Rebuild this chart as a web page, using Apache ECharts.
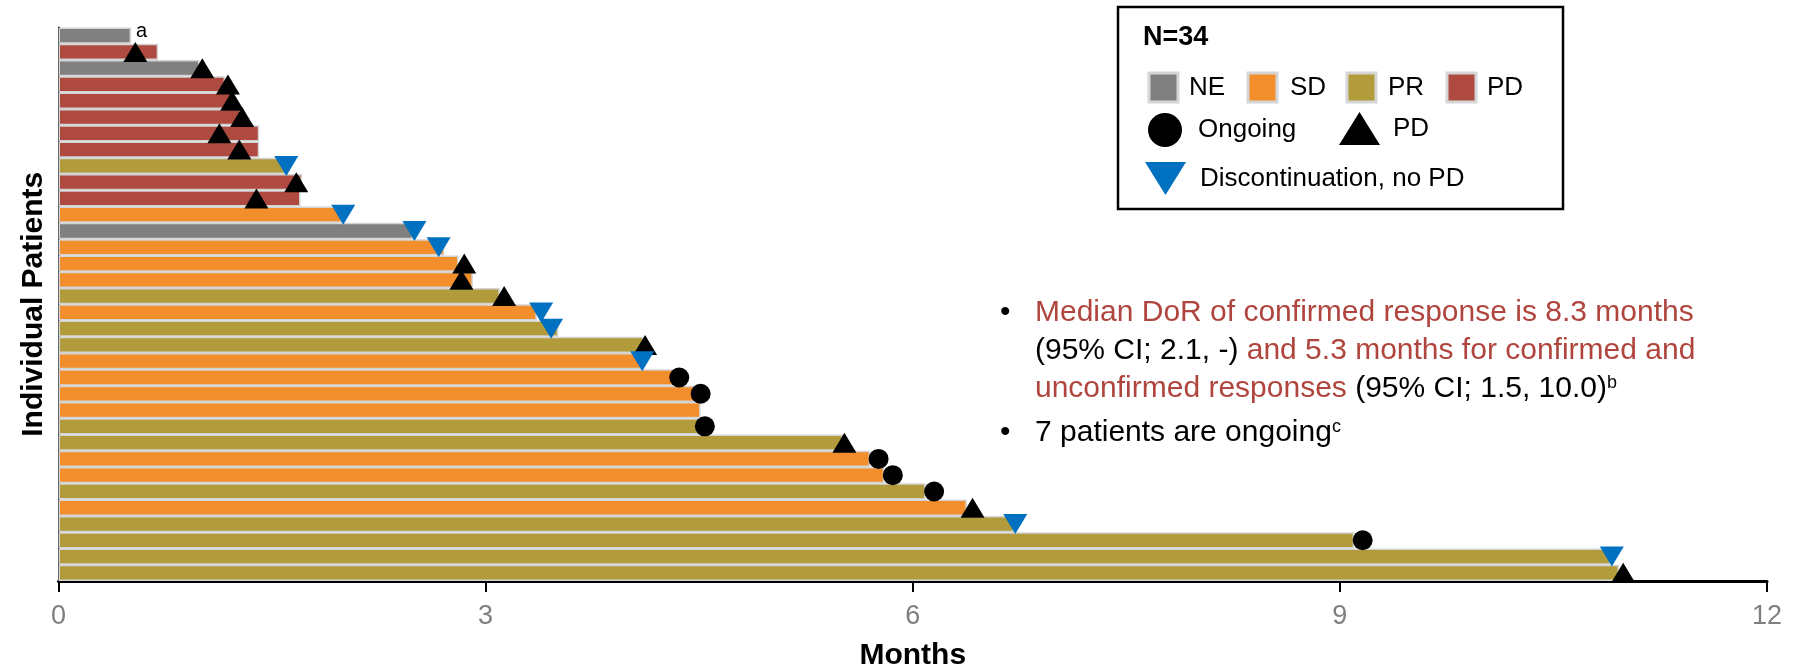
<!DOCTYPE html>
<html>
<head>
<meta charset="utf-8">
<script src="https://cdn.jsdelivr.net/npm/echarts@6/dist/echarts.min.js"></script>
<style>
html,body{margin:0;padding:0;background:#fff;}
#chart{width:1797px;height:672px;}
</style>
</head>
<body>
<div id="chart"></div>
<script>
// ---- data ----
const patients = Array.from({length: 34}, (_, i) => 'P' + (i + 1));
const responses = ['NE','PD','NE','PD','PD','PD','PD','PD','PR','PD','PD','SD','NE','SD','SD','SD','PR','SD','PR','PR','SD','SD','SD','SD','PR','PR','SD','SD','PR','SD','PR','PR','PR','PR'];
const durations = [0.51,0.70,0.99,1.17,1.22,1.28,1.41,1.41,1.60,1.71,1.70,1.99,2.49,2.71,2.81,2.91,3.10,3.36,3.51,4.11,4.11,4.32,4.48,4.51,4.50,5.51,5.70,5.80,6.09,6.38,6.71,9.10,10.90,10.96];
const responseCategories = ['NE','SD','PR','PD'];
const ongoingRows = [22,23,25,27,28,29,32];
const ongoingTimes = [4.36,4.51,4.54,5.76,5.86,6.15,9.16];
const pdRows = [2,3,4,5,6,7,8,10,11,15,16,17,20,26,30,34];
const pdTimes = [0.54,1.01,1.19,1.22,1.29,1.13,1.27,1.67,1.39,2.85,2.83,3.13,4.12,5.52,6.42,10.99];
const discRows = [9,12,13,14,18,19,21,31,33];
const discTimes = [1.60,2.00,2.50,2.67,3.39,3.46,4.10,6.72,10.91];
const xTicks = {min: 0, max: 12, interval: 3};
const footnoteRow = 1, footnoteText = 'a';

// ---- styles ----
const F = "'Liberation Sans', Arial, sans-serif";
const colors = {NE: '#808080', SD: '#F28E2B', PR: '#B19B3A', PD: '#AE4A40'};
const RED = '#B0453E';
const BLUE = '#0070C0';
const downTri = 'path://M0,0L24,0L12,20Z';

const barSeries = responseCategories.map(c => ({
  type: 'bar',
  name: c,
  stack: 'resp',
  barWidth: '100%',
  itemStyle: {color: colors[c], borderColor: '#d4d4d4', borderWidth: 1.5, opacity: 1},
  z: 2,
  data: durations.map((d, i) => {
    if (responses[i] !== c) return '-';
    if (i === footnoteRow - 1) {
      return {value: d, label: {show: true, formatter: footnoteText, position: 'right', distance: 5,
        offset: [0, -4], fontSize: 20, color: '#000', fontFamily: F}};
    }
    return d;
  })
}));

const markerSeries = [
  {type: 'scatter', name: 'Ongoing', symbol: 'circle', symbolSize: 20, itemStyle: {color: '#000', opacity: 1}, z: 5,
   data: ongoingRows.map((r, i) => [ongoingTimes[i], patients[r - 1]])},
  {type: 'scatter', name: 'PD ', symbol: 'triangle', symbolSize: [24, 20], itemStyle: {color: '#000', opacity: 1}, z: 5,
   data: pdRows.map((r, i) => [pdTimes[i], patients[r - 1]])},
  {type: 'scatter', name: 'Discontinuation, no PD', symbol: downTri, symbolSize: [24, 20], itemStyle: {color: BLUE, opacity: 1}, z: 5,
   data: discRows.map((r, i) => [discTimes[i], patients[r - 1]])}
];

function legendItem(name, left, top, w, h, pad, extra) {
  return Object.assign({
    data: [name], left: left, top: top, itemWidth: w, itemHeight: h, orient: 'horizontal',
    selectedMode: false, symbolKeepAspect: false,
    textStyle: {fontSize: 26, color: '#000', fontFamily: F, padding: [0, 0, 0, pad]}
  }, extra || {});
}
const boxStyle = {icon: 'rect', itemStyle: {borderColor: '#d6d6d6', borderWidth: 3, opacity: 1}};

const legends = [
  legendItem('NE', 1142.5, 66.5, 29, 29, 6, boxStyle),
  legendItem('SD', 1241.5, 66.5, 29, 29, 8, boxStyle),
  legendItem('PR', 1340.5, 66.5, 29, 29, 7, boxStyle),
  legendItem('PD', 1440.5, 66.5, 29, 29, 6, boxStyle),
  legendItem('Ongoing', 1143, 108, 34, 34, 11, {itemStyle: {opacity: 1}}),
  legendItem('PD ', 1334, 107, 41, 33, 8, {itemStyle: {opacity: 1}}),
  legendItem('Discontinuation, no PD', 1140, 157, 41, 33, 9, {itemStyle: {opacity: 1}})
];

const textLines = [
  {y: 313, text: '{r|Median DoR of confirmed response is 8.3 months}'},
  {y: 351, text: '{k|(95% CI; 2.1, -) }{r|and 5.3 months for confirmed and}'},
  {y: 389, text: '{r|unconfirmed responses }{k|(95% CI; 1.5, 10.0)}{s|b}'},
  {y: 433, text: '{k|7 patients are ongoing}{s|c}'}
];
const rich = {
  r: {fill: RED, fontSize: 30, fontFamily: F},
  k: {fill: '#000', fontSize: 30, fontFamily: F},
  s: {fill: '#000', fontSize: 18, fontFamily: F, verticalAlign: 'top'}
};

const graphics = [
  {type: 'rect', shape: {x: 1118, y: 7, width: 445, height: 202}, style: {fill: '#fff', stroke: '#000', lineWidth: 2.5}, z: 0},
  {type: 'text', x: 1143, y: 38, style: {text: 'N=34', fontSize: 27, fontWeight: 'bold', fontFamily: F, fill: '#000', verticalAlign: 'middle'}, z: 10},
  {type: 'text', x: 1000, y: 313, style: {text: '•', fontSize: 30, fontFamily: F, fill: '#000', verticalAlign: 'middle'}, z: 10},
  {type: 'text', x: 1000, y: 433, style: {text: '•', fontSize: 30, fontFamily: F, fill: '#000', verticalAlign: 'middle'}, z: 10}
].concat(textLines.map(l => ({
  type: 'text', x: 1035, y: l.y, z: 10,
  style: {text: l.text, rich: rich, fontSize: 30, fontFamily: F, verticalAlign: 'middle'}
})));

const option = {
  animation: false,
  backgroundColor: '#fff',
  textStyle: {fontFamily: F},
  grid: {left: 58.5, right: 30, top: 27.5, bottom: 91, containLabel: false, outerBoundsMode: 'none'},
  xAxis: {
    type: 'value', min: xTicks.min, max: xTicks.max, interval: xTicks.interval,
    axisLine: {show: true, lineStyle: {color: '#000', width: 3}},
    axisTick: {show: true, length: 11, lineStyle: {color: '#000', width: 2}},
    axisLabel: {color: '#7f7f7f', fontSize: 27, margin: 22, fontFamily: F},
    splitLine: {show: false},
    name: 'Months', nameLocation: 'middle', nameGap: 60,
    nameTextStyle: {fontSize: 30, fontWeight: 'bold', color: '#000', fontFamily: F}
  },
  yAxis: {
    type: 'category', inverse: true, data: patients,
    axisLine: {show: true, lineStyle: {color: '#000', width: 2}},
    axisTick: {show: false}, axisLabel: {show: false}, splitLine: {show: false},
    name: 'Individual Patients', nameLocation: 'middle', nameGap: 10,
    nameTextStyle: {fontSize: 30, fontWeight: 'bold', color: '#000', fontFamily: F}
  },
  legend: legends,
  graphic: graphics,
  series: barSeries.concat(markerSeries)
};

const chart = echarts.init(document.getElementById('chart'), null, {renderer: 'canvas'});
chart.setOption(option);
</script>
</body>
</html>
